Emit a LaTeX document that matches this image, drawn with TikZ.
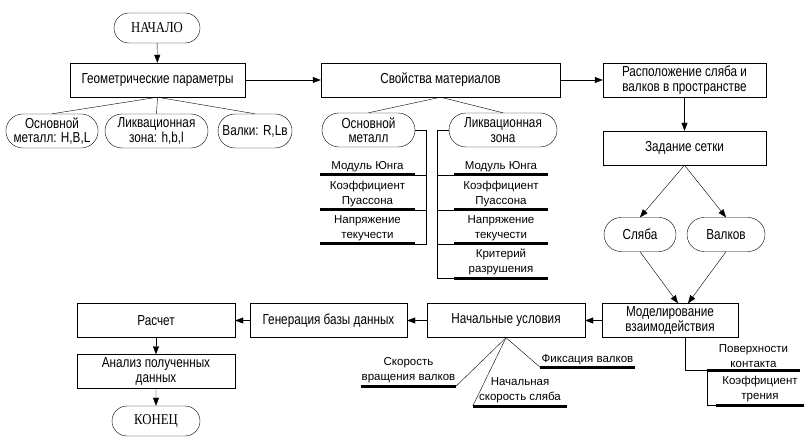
\documentclass[tikz,border=0pt]{standalone}
\usepackage{fontspec}
\setmainfont[FakeStretch=0.81]{Liberation Sans}
\newfontfamily\smallfont{Liberation Sans}
\newfontfamily\termfont[FakeStretch=0.85]{Liberation Serif}
\usetikzlibrary{positioning}
\usetikzlibrary{shapes.misc}
\usetikzlibrary{arrows.meta}

\begin{document}
\begin{tikzpicture}[x=1pt,y=-1pt,
        blok/.style={draw, rectangle, minimum height=34pt, inner sep=1pt, align=center, font=\fontsize{14.5}{14.5}\selectfont},
        oval/.style={draw, rounded rectangle, minimum height=34pt, inner sep=1pt, align=center, font=\fontsize{14.5}{14.5}\selectfont},
        term/.style={oval, minimum height=30pt, font=\termfont\fontsize{15}{15}\selectfont},
        punkt/.style={inner xsep=0pt, inner ysep=2.5pt, align=center, font=\smallfont\fontsize{11.5}{15}\selectfont},
        bar/.style={line width=3pt},
        pil/.style={-{Triangle[length=8pt,width=6pt]}}]
        \useasboundingbox (0,0) rectangle (805,438);

        % verhnij rjad
        \node[term, minimum width=88pt] (start) at (157,28) {НАЧАЛО};
        \node[blok, minimum width=175pt] (geom) at (157.5,80) {Геометрические параметры};
        \node[oval, minimum width=90pt] (osn1) at (52,131) {Основной\\металл: H,B,L};
        \node[oval, minimum width=105pt] (lz1) at (156.5,131) {Ликвационная\\зона: h,b,l};
        \node[oval, minimum width=76pt] (valki) at (255,131) {Валки: R,Lв};
        \node[blok, minimum width=239pt] (svoj) at (440.5,80) {Свойства материалов};
        \node[oval, minimum width=95pt] (osn2) at (368.5,130) {Основной\\металл};
        \node[oval, minimum width=110pt] (lz2) at (503,130) {Ликвационная\\зона};
        \node[blok, minimum width=163pt] (rasp) at (684.5,80) {Расположение сляба и\\валков в пространстве};
        \node[blok, minimum width=163pt] (setka) at (684.5,148) {Задание сетки};
        \node[oval, minimum width=74pt] (slyab) at (640,234.5) {Сляба};
        \node[oval, minimum width=80pt] (valkov) at (726,234.5) {Валков};

        % nizhnij rjad
        \node[blok, minimum width=136pt] (model) at (670,320.5) {Моделирование\\взаимодействия};
        \node[blok, minimum width=158pt] (nach) at (506,320.5) {Начальные условия};
        \node[blok, minimum width=157pt] (gen) at (328.5,320.5) {Генерация базы данных};
        \node[blok, minimum width=158pt] (rasch) at (156,320.5) {Расчет};
        \node[blok, minimum width=158pt] (anal) at (156,371.5) {Анализ полученных\\данных};
        \node[term, minimum width=90pt] (konec) at (156,421) {КОНЕЦ};

        % svojstva
        \foreach \i/\y/\t in {1/175/{Модуль Юнга}, 2/210/{Коэффициент\\Пуассона}, 3/244/{Напряжение\\текучести}}
        \node[punkt, minimum width=95pt, anchor=south] (a\i) at (367.5,\y) {\t};
        \foreach \i/\y/\t in {1/175/{Модуль Юнга}, 2/210/{Коэффициент\\Пуассона}, 3/244/{Напряжение\\текучести}, 4/278/{Критерий\\разрушения}}
        \node[punkt, minimum width=94pt, anchor=south] (b\i) at (501,\y) {\t};

        \node[punkt, minimum width=95pt, anchor=south] (skor) at (408.5,386) {Скорость\\вращения валков};
        \node[punkt, minimum width=94pt, anchor=south] (nskor) at (520,406) {Начальная\\скорость сляба};
        \node[punkt, minimum width=95pt, anchor=south] (fiks) at (587.5,367) {Фиксация валков};
        \node[punkt, minimum width=93pt, anchor=south] (pov) at (753.5,370) {Поверхности\\контакта};
        \node[punkt, minimum width=88pt, anchor=south] (ktr) at (760,405) {Коэффициент\\трения};

        \foreach \n in {a1,a2,a3,b1,b2,b3,b4,skor,nskor,fiks,pov,ktr}
        \draw[bar] (\n.south west) -- (\n.south east);

        \coordinate (lbr) at (426,130);
        \coordinate (rbr) at (437,130);

        % strelki
        \draw[pil] (start) -- (geom);
        \draw[pil] (geom) -- (svoj);
        \draw[pil] (svoj) -- (rasp);
        \draw[pil] (rasp) -- (setka);
        \draw[pil] (setka.south) -- (slyab.north);
        \draw[pil] (setka.south) -- (valkov.north);
        \draw[pil] (slyab.south) -- ([xshift=8pt]model.north);
        \draw[pil] (valkov.south) -- ([xshift=18pt]model.north);
        \draw[pil] (model) -- (nach);
        \draw[pil] (nach) -- (gen);
        \draw[pil] (gen) -- (rasch);
        \draw[pil] (rasch) -- (anal);
        \draw[pil] (anal) -- (konec);

        % linii
        \foreach \n in {osn1,lz1,valki}
        \draw (geom.south) -- (\n.north);
        \foreach \n in {osn2,lz2}
        \draw (svoj.south) -- (\n.north);
        \draw (osn2.east) -- (lbr) |- (a3.south east);
        \foreach \i in {1,2}
        \draw (a\i.south east) -- (a\i.south east -| lbr);
        \draw (lz2.west) -- (rbr) |- (b4.south west);
        \foreach \i in {1,2,3}
        \draw (b\i.south west) -- (b\i.south west -| rbr);
        \draw (nach.south) -- (skor.south east);
        \draw (nach.south) -- (nskor.south west);
        \draw (nach.south) -- (fiks.south west);
        \draw ([xshift=15pt]model.south) |- (pov.south west);
        \draw (pov.south west) |- (ktr.south west);
    \end{tikzpicture}
\end{document}
